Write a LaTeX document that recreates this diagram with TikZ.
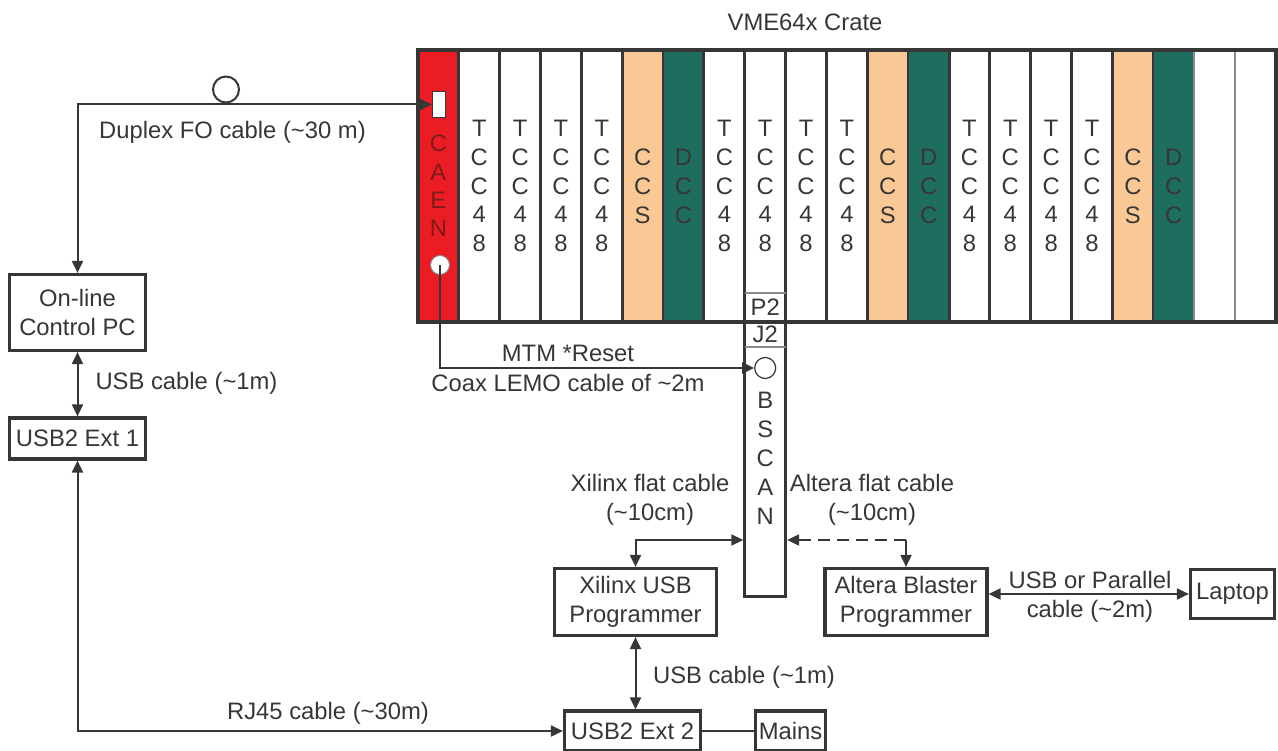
\documentclass[tikz,border=0pt]{standalone}
\usepackage{fontspec}
\setmainfont{Liberation Sans}
\usetikzlibrary{arrows.meta,calc}
\definecolor{ink}{HTML}{363636}
\definecolor{caenred}{HTML}{EC1C24}
\definecolor{ccsfill}{HTML}{FAC894}
\definecolor{dccfill}{HTML}{1F6D5E}
\definecolor{caentext}{HTML}{7E1B1B}
\definecolor{divgray}{HTML}{8A8A8A}
\begin{document}
\begin{tikzpicture}[x=1pt,y=-1pt,
  >={Triangle[length=12pt,width=11pt]},
  every node/.style={font=\fontsize{23.8}{29}\selectfont, text=ink, inner sep=0pt},
  box/.style={draw=ink, line width=3.2pt, fill=white, align=center},
  conn/.style={draw=ink, line width=2pt},
  slottext/.style={align=center, font=\fontsize{23.8}{28.75}\selectfont},
  thickdiv/.style={draw=ink, line width=3pt},
  meddiv/.style={draw=ink, line width=2pt},
  thindiv/.style={draw=divgray, line width=1.5pt}]
\useasboundingbox (0,0) rectangle (1278,751);
\def\sw{40.85}
\node (title) at (805,22) {VME64x Crate};
% slot fills
\foreach \i/\col in {0/caenred,5/ccsfill,6/dccfill,11/ccsfill,12/dccfill,17/ccsfill,18/dccfill}
  \fill[\col] ({418+\sw*\i},50) rectangle ({418+\sw*(\i+1)},322);
% BSCAN board below slot 8
\node[draw=ink, line width=3pt, fill=white, minimum width=40.85, minimum height=274] (bscan) at (765.2,459) {};
% dividers
\foreach \i in {1,2,3,4,5,7,8,9,10,11,13,14,15,16,17}
  \draw[thickdiv] ({418+\sw*\i},50) -- ({418+\sw*\i},322);
\foreach \i in {6,12,18}
  \draw[meddiv] ({418+\sw*\i},50) -- ({418+\sw*\i},322);
\foreach \i in {19,20}
  \draw[thindiv] ({418+\sw*\i},50) -- ({418+\sw*\i},322);
% P2 / J2 separators
\draw[divgray, line width=1.2pt] ({418+\sw*8},293) -- ({418+\sw*9},293);
\draw[divgray, line width=1.2pt] ({418+\sw*8},347) -- ({418+\sw*9},347);
% crate frame
\draw[ink, line width=3.5pt] (418,50) rectangle ({418+\sw*21},322);
% slot labels
\foreach \i in {1,2,3,4,7,8,9,10,13,14,15,16}
  \node[slottext] (tcc\i) at ({418+\sw*(\i+0.5)},186) {T\\C\\C\\4\\8};
\foreach \i in {5,11,17}
  \node[slottext] (ccs\i) at ({418+\sw*(\i+0.5)},186.5) {C\\C\\S};
\foreach \i in {6,12,18}
  \node[slottext] (dcc\i) at ({418+\sw*(\i+0.5)},186.5) {D\\C\\C};
\node[slottext, text=caentext, font=\fontsize{23.8}{28.3}\selectfont] (caen) at (438.4,186) {C\\A\\E\\N};
\node (p2) at (765.2,307.5) {P2};
\node (j2) at (765.2,334.5) {J2};
\node[slottext, font=\fontsize{23.8}{29}\selectfont] (bscantext) at (765.2,458.5) {B\\S\\C\\A\\N};
% connectors on CAEN
\node[draw=ink, line width=1.2pt, fill=white, minimum width=13, minimum height=26] (caenfo) at (439,104.5) {};
\node[circle, draw=divgray, line width=1pt, fill=white, minimum size=19] (caenlemo) at (440,265) {};
\node[circle, draw=ink, line width=1.2pt, fill=white, minimum size=21] (bscirc) at (765.2,368) {};
% boxes
\node[box, minimum width=136, minimum height=76] (pc) at (77.5,312.5) {On-line\\Control PC};
\node[box, minimum width=136, minimum height=41] (ext1) at (77.5,438.5) {USB2 Ext 1};
\node[box, minimum width=162, minimum height=67] (xil) at (635.5,602) {Xilinx USB\\Programmer};
\node[box, minimum width=162, minimum height=67] (alt) at (906,602) {Altera Blaster\\Programmer};
\node[box, minimum width=84, minimum height=49] (lap) at (1232.5,594) {Laptop};
\node[box, minimum width=136, minimum height=40] (ext2) at (632.5,731) {USB2 Ext 2};
\node[box, minimum width=70, minimum height=40] (mains) at (790.5,731) {Mains};
\coordinate (jtag) at (765,540);
% connectors
\draw[conn, <->] (pc.north) |- (caenfo.west);
\node[circle, draw=ink, line width=2pt, fill=white, minimum size=26] (focirc) at (226,89.5) {};
\draw[conn, <->] (pc.south) -- (ext1.north);
\draw[conn, <->] (ext1.south) |- (ext2.west);
\draw[conn, <->] (xil.south) -- (xil.south |- ext2.north);
\draw[conn] (ext2.east) -- (mains.west);
\draw[conn, <->] (alt.east |- lap.west) -- (lap.west);
\draw[conn, <->] (xil.north) |- (bscan.west |- jtag);
\draw[conn, <-, dash pattern=on 12pt off 7pt] (bscan.east |- jtag) -- (alt.north |- jtag);
\draw[conn, ->] (alt.north |- jtag) -- (alt.north);
\draw[conn, ->] (caenlemo.center) |- (bscirc.west);
% labels
\node (folbl) at (232.5,132) {Duplex FO cable (\textasciitilde30 m)};
\node (usb1lbl) at (186.5,383) {USB cable (\textasciitilde1m)};
\node (rjlbl) at (328,713) {RJ45 cable (\textasciitilde30m)};
\node (mtmlbl) at (568,353) {MTM *Reset};
\node (coaxlbl) at (568,383) {Coax LEMO cable of \textasciitilde2m};
\node[align=center] (xlbl) at (650,500) {Xilinx flat cable\\(\textasciitilde10cm)};
\node[align=center] (albl) at (872,500) {Altera flat cable\\(\textasciitilde10cm)};
\node[align=center] (plbl) at (1090,596.5) {USB or Parallel\\cable (\textasciitilde2m)};
\node (usb2lbl) at (744,677) {USB cable (\textasciitilde1m)};
\end{tikzpicture}
\end{document}
